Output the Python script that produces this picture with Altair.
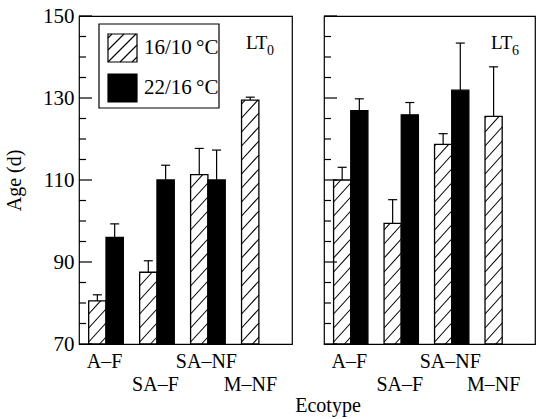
import json
import altair as alt
import pandas as pd

# ---------------- data ----------------
ecotypes = ["A–F", "SA–F", "SA–NF", "M–NF"]
treatments = ["16/10\u2009°C", "22/16\u2009°C"]
panel_subs = ["0", "6"]

lt0_cool = [80.5, 87.5, 111.3, 129.5]
lt0_cool_err = [1.5, 2.8, 6.4, 0.7]
lt0_warm = [96.0, 110.0, 110.0, None]
lt0_warm_err = [3.3, 3.6, 7.3, None]

lt6_cool = [110.0, 99.4, 118.7, 125.5]
lt6_cool_err = [3.1, 5.8, 2.6, 12.1]
lt6_warm = [126.9, 125.9, 131.9, None]
lt6_warm_err = [2.9, 3.0, 11.5, None]

y_major = [70, 90, 110, 130, 150]
y_minor = [75, 80, 85, 95, 100, 105, 115, 120, 125, 135, 140, 145]

# ---------------- style / geometry ----------------
FONT = "Liberation Serif"
W_LEFT, W_RIGHT, H = 213, 211, 328
X_DOMAIN = [-0.53, 3.65]
Y_DOMAIN = [70, 150]
Y0 = Y_DOMAIN[0]
BAR_W = 0.34
PX_Y = H / (Y_DOMAIN[1] - Y_DOMAIN[0])
HATCH_GAP_PX = 14.0
HATCH_RISE_PX = 19.0
HATCH_PHASE = 0.5

names_js = json.dumps(ecotypes, ensure_ascii=False)


def bars_df(cool, cool_err, warm, warm_err):
    rows = []
    for i, name in enumerate(ecotypes):
        for t, vals, errs, x0 in ((0, cool, cool_err, i - BAR_W), (1, warm, warm_err, i)):
            v = vals[i]
            if v is None:
                continue
            rows.append(dict(eco=name, trt=treatments[t], v=v, top=v + errs[i],
                             x0=x0, x1=x0 + BAR_W, xc=x0 + BAR_W / 2))
    return pd.DataFrame(rows)


def hatch_df(bars):
    s = HATCH_GAP_PX / PX_Y
    r = HATCH_RISE_PX / PX_Y
    rows = []
    for _, b in bars[bars.trt == treatments[0]].iterrows():
        c = Y0 - r + HATCH_PHASE * s
        while c < b.v:
            t0 = max(0.0, (Y0 - c) / r)
            t1 = min(1.0, (b.v - c) / r)
            if t1 > t0:
                rows.append(dict(xa=b.x0 + t0 * BAR_W, xb=b.x0 + t1 * BAR_W,
                                 ya=c + r * t0, yb=c + r * t1))
            c += s
    return pd.DataFrame(rows)


def one(text):
    return pd.DataFrame({"t": [text]})


def panel(cool, cool_err, warm, warm_err, sub, width, left):
    bars = bars_df(cool, cool_err, warm, warm_err)
    hat = hatch_df(bars)
    xs = alt.Scale(domain=X_DOMAIN, nice=False, zero=False)
    ys = alt.Scale(domain=Y_DOMAIN, nice=False, zero=False)
    xaxis = alt.Axis(
        values=[0, 1, 2, 3], labelExpr=f"{names_js}[round(datum.value)]",
        ticks=False, tickSize=0, domain=False, grid=False, title=None, labelAngle=0,
        labelFont=FONT, labelFontSize=20, labelColor="black",
        labelPadding={"condition": {"test": "round(datum.value) % 2 == 1", "value": 30}, "value": 7},
        labelOffset={"condition": {"test": "round(datum.value) == 3", "value": -9}, "value": -2},
    )
    if left:
        yaxis = alt.Axis(values=y_major, ticks=False, tickSize=0, domain=False, grid=False,
                         labelFont=FONT, labelFontSize=21, labelColor="black", labelPadding=5,
                         title="Age (d)", titleFont=FONT, titleFontSize=20,
                         titleFontWeight="normal", titleColor="black", titlePadding=18)
    else:
        yaxis = None

    def X(f):
        return alt.X(f, scale=xs, axis=xaxis)

    def Y(f):
        return alt.Y(f, scale=ys, axis=yaxis)

    base = alt.Chart(bars)
    fill = base.mark_rect(strokeWidth=0).encode(
        x=X("x0:Q"), x2="x1:Q",
        y=Y("v:Q"), y2=alt.datum(Y0),
        fill=alt.Fill("trt:N", scale=alt.Scale(domain=treatments, range=["white", "black"]), legend=None),
    )
    hatch = alt.Chart(hat).mark_rule(color="black", strokeWidth=1.1).encode(
        x=X("xa:Q"), x2="xb:Q", y=Y("ya:Q"), y2="yb:Q",
    )
    outline = base.mark_rect(fill="transparent", stroke="black", strokeWidth=1.3).encode(
        x=X("x0:Q"), x2="x1:Q", y=Y("v:Q"), y2=alt.datum(Y0),
    )
    err = base.mark_rule(color="black", strokeWidth=1.2).encode(
        x=X("xc:Q"), y=Y("v:Q"), y2="top:Q",
    )
    cap = base.mark_rule(color="black", strokeWidth=1.2, xOffset=-4.5, x2Offset=4.5).encode(
        x=X("xc:Q"), x2="xc:Q", y=Y("top:Q"),
    )
    tmaj = alt.Chart(pd.DataFrame({"v": y_major})).mark_rule(color="black", strokeWidth=1.2).encode(
        y=Y("v:Q"), x=alt.value(0), x2=alt.value(13))
    tmin = alt.Chart(pd.DataFrame({"v": y_minor})).mark_rule(color="black", strokeWidth=1.2).encode(
        y=Y("v:Q"), x=alt.value(0), x2=alt.value(7))
    lab = alt.Chart(one("LT")).mark_text(font=FONT, fontSize=19, align="left", baseline="alphabetic",
                                         color="black").encode(
        text="t:N", x=alt.value(167), y=alt.value(33))
    subl = alt.Chart(one(sub)).mark_text(font=FONT, fontSize=14, align="left", baseline="alphabetic",
                                         color="black").encode(
        text="t:N", x=alt.value(188), y=alt.value(39))
    layers = [fill, hatch, outline, err, cap, tmaj, tmin, lab, subl]

    if left:
        box = alt.Chart(one("box")).mark_rect(fill="white", stroke="black", strokeWidth=1.2).encode(
            x=alt.value(20), x2=alt.value(140), y=alt.value(8), y2=alt.value(92))
        sw1 = alt.Chart(one("s1")).mark_rect(fill="white", stroke="black", strokeWidth=1.2).encode(
            x=alt.value(29), x2=alt.value(58), y=alt.value(18), y2=alt.value(46))
        sw2 = alt.Chart(one("s2")).mark_rect(fill="black", stroke="black", strokeWidth=1.2).encode(
            x=alt.value(29), x2=alt.value(58), y=alt.value(58), y2=alt.value(86))
        layers += [box, sw1, sw2]
        # diagonal hatch inside the legend swatch (pixel geometry)
        sx0, sx1, sy_top, sy_bot = 29, 58, 18, 46
        hmax = sy_bot - sy_top
        for b in (-24, -12, 0, 12, 24):
            xa, ua = sx0, b
            xb, ub = sx1, (sx1 - sx0) + b
            if ua < 0:
                xa = xa - ua; ua = 0
            if ub > hmax:
                xb = xb - (ub - hmax); ub = hmax
            if xb <= xa:
                continue
            layers.append(alt.Chart(one("h")).mark_rule(color="black", strokeWidth=1.1).encode(
                x=alt.value(xa), x2=alt.value(xb), y=alt.value(sy_bot - ua), y2=alt.value(sy_bot - ub)))
        for k, yy in enumerate((32, 72)):
            layers.append(alt.Chart(one(treatments[k])).mark_text(
                font=FONT, fontSize=21, align="left", baseline="middle", color="black").encode(
                text="t:N", x=alt.value(65), y=alt.value(yy)))
    else:
        layers.append(alt.Chart(one("Ecotype")).mark_text(
            font=FONT, fontSize=20, align="center", baseline="alphabetic", color="black").encode(
            text="t:N", x=alt.value(4), y=alt.value(396)))

    return alt.layer(*layers).properties(width=width, height=H)


left = panel(lt0_cool, lt0_cool_err, lt0_warm, lt0_warm_err, panel_subs[0], W_LEFT, True)
right = panel(lt6_cool, lt6_cool_err, lt6_warm, lt6_warm_err, panel_subs[1], W_RIGHT, False)

chart = alt.hconcat(left, right, spacing=32, bounds="flush").properties(
    padding={"left": 3, "top": 4, "right": 0, "bottom": 0},
    background="white",
).configure_view(stroke="black", strokeWidth=1.2)

chart.save("out.html", embed_options={"renderer": "svg", "actions": False})
